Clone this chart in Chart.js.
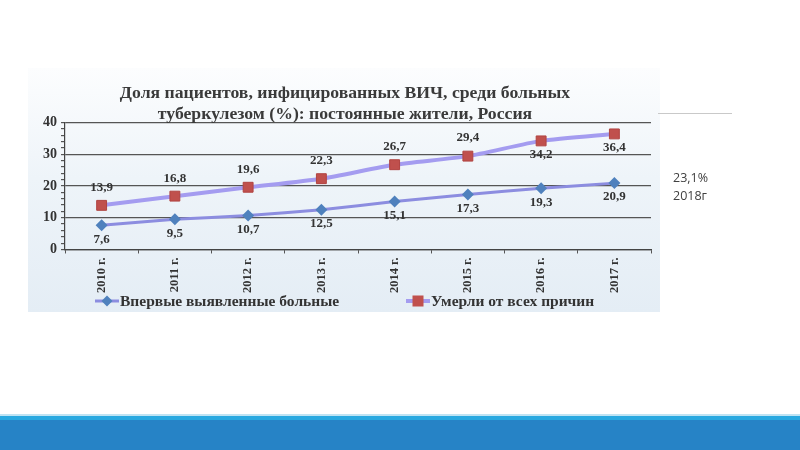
<!DOCTYPE html>
<html lang="ru">
<head>
<meta charset="utf-8">
<title>Доля пациентов, инфицированных ВИЧ</title>
<script src="https://cdn.jsdelivr.net/npm/chart.js@4.4.1/dist/chart.umd.min.js"></script>
<style>
  html, body { margin: 0; padding: 0; background: #fff; }
  body { width: 800px; height: 450px; position: relative; overflow: hidden; }
  #panel {
    position: absolute; left: 28px; top: 68px; width: 632px; height: 244px;
    background: linear-gradient(#fcfdfe 0%, #eef4f9 45%, #e4edf5 100%);
  }
  #sep { position: absolute; left: 658px; top: 113px; width: 74px; height: 1px; background: #c9c9c9; }
  #note {
    position: absolute; left: 673px; top: 169px;
    font: 12.5px/18px "Open Sans", sans-serif; color: #404040;
  }
  .leg {
    position: absolute; top: 292px; height: 18px; display: flex; align-items: center;
    font: bold 15.5px "Liberation Serif", "Times New Roman", serif; color: #333;
    white-space: nowrap;
  }
  .leg canvas { margin-right: 1px; }
  #barTop { position: absolute; left: 0; top: 414px; width: 800px; height: 2px; background: #bfe3f3; }
  #barMid { position: absolute; left: 0; top: 416px; width: 800px; height: 4px; background: #29a8e0; }
  #barLow { position: absolute; left: 0; top: 420px; width: 800px; height: 30px; background: #2683c6; }
</style>
</head>
<body>
<div id="panel"><canvas id="hivChart"></canvas></div>
<div id="legend"></div>
<div id="sep"></div>
<div id="note">23,1%<br>2018г</div>
<div id="barTop"></div>
<div id="barMid"></div>
<div id="barLow"></div>

<script>
// data
const years = ['2010 г.', '2011 г.', '2012 г.', '2013 г.', '2014 г.', '2015 г.', '2016 г.', '2017 г.'];
const newCases = [7.6, 9.5, 10.7, 12.5, 15.1, 17.3, 19.3, 20.9];
const allDeaths = [13.9, 16.8, 19.6, 22.3, 26.7, 29.4, 34.2, 36.4];
const seriesNames = ['Впервые выявленные больные', 'Умерли от всех причин'];
const yTicks = [0, 10, 20, 30, 40];

const serif = '"Liberation Serif", "Times New Roman", serif';
const textColor = '#333333';
const colors = {
  newLine: '#8c8de0',
  newMark: '#4f81bd',
  deadLine: '#a49cf0',
  deadMark: '#c0504d',
};

// small line+marker image for the legend
function legendIcon(lineColor, lineWidth, markerColor, shape) {
  const c = document.createElement('canvas');
  c.width = 24;
  c.height = 12;
  const g = c.getContext('2d');
  g.strokeStyle = lineColor;
  g.lineWidth = lineWidth;
  g.beginPath();
  g.moveTo(0, 6);
  g.lineTo(24, 6);
  g.stroke();
  g.fillStyle = markerColor;
  if (shape === 'diamond') {
    g.beginPath();
    g.moveTo(12, 0.5);
    g.lineTo(17.5, 6);
    g.lineTo(12, 11.5);
    g.lineTo(6.5, 6);
    g.closePath();
    g.fill();
  } else {
    g.fillRect(6.5, 0.5, 11, 11);
  }
  return c;
}

// html legend, laid out like the original
const legendBox = document.getElementById('legend');
[
  { left: 95, icon: legendIcon(colors.newLine, 3, colors.newMark, 'diamond') },
  { left: 406, icon: legendIcon(colors.deadLine, 4, colors.deadMark, 'square') },
].forEach((item, i) => {
  const el = document.createElement('div');
  el.className = 'leg';
  el.style.left = item.left + 'px';
  el.appendChild(item.icon);
  el.appendChild(document.createTextNode(seriesNames[i]));
  legendBox.appendChild(el);
});

const valueLabels = {
  id: 'valueLabels',
  afterDatasetsDraw(chart, args, opts) {
    const ctx = chart.ctx;
    ctx.save();
    ctx.font = 'bold 13px ' + serif;
    ctx.fillStyle = textColor;
    ctx.textAlign = 'center';
    ctx.textBaseline = 'middle';
    chart.data.datasets.forEach((ds, di) => {
      const meta = chart.getDatasetMeta(di);
      meta.data.forEach((pt, i) => {
        const above = di === 1 && i < opts.belowFrom;
        const dy = above ? -18 : 14;
        const txt = ds.data[i].toFixed(1).replace('.', ',');
        ctx.fillText(txt, pt.x, pt.y + dy);
      });
    });
    ctx.restore();
  },
};

new Chart(document.getElementById('hivChart'), {
  type: 'line',
  data: {
    labels: years,
    datasets: [
      {
        label: seriesNames[0],
        data: newCases,
        borderColor: colors.newLine,
        borderWidth: 3,
        tension: 0.15,
        pointStyle: 'rectRot',
        pointRadius: 6,
        pointBackgroundColor: colors.newMark,
        pointBorderColor: colors.newMark,
        pointBorderWidth: 0,
      },
      {
        label: seriesNames[1],
        data: allDeaths,
        borderColor: colors.deadLine,
        borderWidth: 4,
        tension: 0.2,
        pointStyle: 'rect',
        pointRadius: 7,
        pointBackgroundColor: colors.deadMark,
        pointBorderColor: '#b04340',
        pointBorderWidth: 1,
      },
    ],
  },
  options: {
    responsive: true,
    maintainAspectRatio: false,
    animation: false,
    layout: {
      padding: { top: 6, right: 9, bottom: 15, left: 11 },
    },
    plugins: {
      title: {
        display: true,
        text: [
          'Доля пациентов, инфицированных ВИЧ, среди больных',
          'туберкулезом (%): постоянные жители, Россия',
        ],
        color: '#3a3a3a',
        font: { family: serif, size: 17.7, weight: 'bold', lineHeight: 1.2 },
        padding: { top: 9, bottom: -3 },
      },
      legend: { display: false },
      tooltip: { enabled: false },
      valueLabels: { belowFrom: 6 },
    },
    scales: {
      x: {
        offset: true,
        grid: {
          offset: true,
          drawOnChartArea: false,
          color: '#555555',
          tickLength: 4,
        },
        border: { color: '#444444', width: 1.2 },
        ticks: {
          color: textColor,
          font: { family: serif, size: 12.5, weight: 'bold' },
          minRotation: 90,
          maxRotation: 90,
          padding: 4,
        },
      },
      y: {
        min: yTicks[0],
        max: yTicks[yTicks.length - 1],
        afterBuildTicks: (axis) => {
          // major ticks every 10, minor marks every 2
          const list = [];
          for (let v = axis.min; v <= axis.max; v += 2) list.push({ value: v });
          axis.ticks = list;
        },
        grid: {
          color: (c) => (yTicks.includes(c.tick.value) ? '#555555' : 'rgba(0,0,0,0)'),
          tickColor: '#555555',
          tickLength: 4,
          lineWidth: 1.2,
        },
        border: { color: '#444444', width: 1.2 },
        ticks: {
          autoSkip: false,
          color: textColor,
          font: { family: serif, size: 14, weight: 'bold' },
          padding: 4,
          callback: (v) => (yTicks.includes(v) ? v : ''),
        },
      },
    },
  },
  plugins: [valueLabels],
});
</script>
</body>
</html>
